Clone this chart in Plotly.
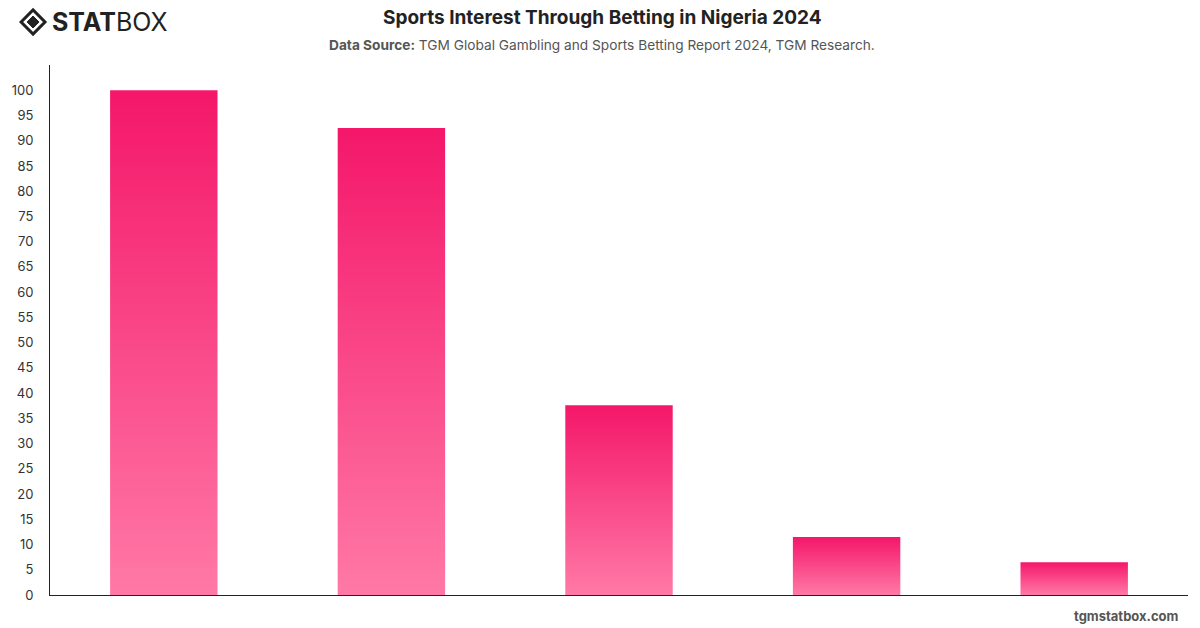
import plotly.graph_objects as go

categories = ["Football", "Basketball", "Tennis", "Boxing", "Athletics"]
values = [100, 92.5, 37.6, 11.5, 6.5]
tick_vals = list(range(0, 101, 5))

TOP = "#F4176A"
BOTTOM = "#FF79A6"
half = 0.236

fig = go.Figure()
for i, (c, v) in enumerate(zip(categories, values)):
    xs = [i - half, i - half, i + half, i + half, i - half]
    ys = [0, v, v, 0, 0]
    fig.add_trace(go.Scatter(
        x=xs, y=ys, mode="lines", fill="toself",
        line=dict(width=0, color=TOP),
        fillgradient=dict(type="vertical", colorscale=[[0, BOTTOM], [1, TOP]]),
        name=c, hoverinfo="text", text=f"{c}: {v}", showlegend=False,
    ))

W, H = 1200, 628
L, R, T, B = 46, 12, 65, 33

fig.update_layout(
    width=W, height=H,
    margin=dict(l=L, r=R, t=T, b=B),
    paper_bgcolor="white", plot_bgcolor="white",
    font=dict(family="Inter, Helvetica, Arial, sans-serif", color="#333333", size=13),
    xaxis=dict(range=[-0.5, 4.5], showgrid=False, zeroline=False, showline=True,
               linecolor="#222222", linewidth=1, showticklabels=False, ticks="",
               fixedrange=True),
    yaxis=dict(range=[0, 105], tickvals=tick_vals, showgrid=False, zeroline=False,
               showline=True, linecolor="#222222", linewidth=1, ticks="",
               ticklabelstandoff=13, tickfont=dict(size=13, color="#333333"),
               fixedrange=True),
)

def px(xp):
    return (xp - L) / (W - L - R)

def py(yp):
    return (H - B - yp) / (H - T - B)

fig.add_annotation(text="<b>Sports Interest Through Betting in Nigeria 2024</b>",
                   x=px(600), y=py(17), xref="paper", yref="paper", xanchor="center",
                   yanchor="middle", showarrow=False,
                   font=dict(size=19, color="#222222", family="Inter, Helvetica, Arial, sans-serif"))
fig.add_annotation(text="<b>Data Source:</b> TGM Global Gambling and Sports Betting Report 2024, TGM Research.",
                   x=px(600), y=py(45), xref="paper", yref="paper", xanchor="center",
                   yanchor="middle", showarrow=False,
                   font=dict(size=13.7, color="#555555", family="Inter, Helvetica, Arial, sans-serif"))
fig.add_annotation(text="<b>tgmstatbox.com</b>", x=px(1181), y=py(616), xref="paper", yref="paper",
                   xanchor="right", yanchor="middle", showarrow=False,
                   font=dict(size=13, color="#555555", family="Inter, Helvetica, Arial, sans-serif"))

# logo
fig.add_annotation(text="<b>STAT</b>BOX", x=px(46), y=py(22), xref="paper", yref="paper",
                   xanchor="left", yanchor="middle", showarrow=False,
                   font=dict(size=25, color="#222222", family="Inter, Helvetica, Arial, sans-serif"))
cx, cy, r = 29, 22, 12
outer = f"M {px(cx - r)} {py(cy)} L {px(cx)} {py(cy - r)} L {px(cx + r)} {py(cy)} L {px(cx)} {py(cy + r)} Z"
fig.add_shape(type="path", path=outer, xref="paper", yref="paper",
              line=dict(color="#222222", width=3), fillcolor="rgba(0,0,0,0)")
ri = 6
inner = f"M {px(cx - ri)} {py(cy)} L {px(cx)} {py(cy - ri)} L {px(cx + ri)} {py(cy)} L {px(cx)} {py(cy + ri)} Z"
fig.add_shape(type="path", path=inner, xref="paper", yref="paper",
              line=dict(color="#222222", width=1), fillcolor="#222222")

fig.write_html("out.html")
